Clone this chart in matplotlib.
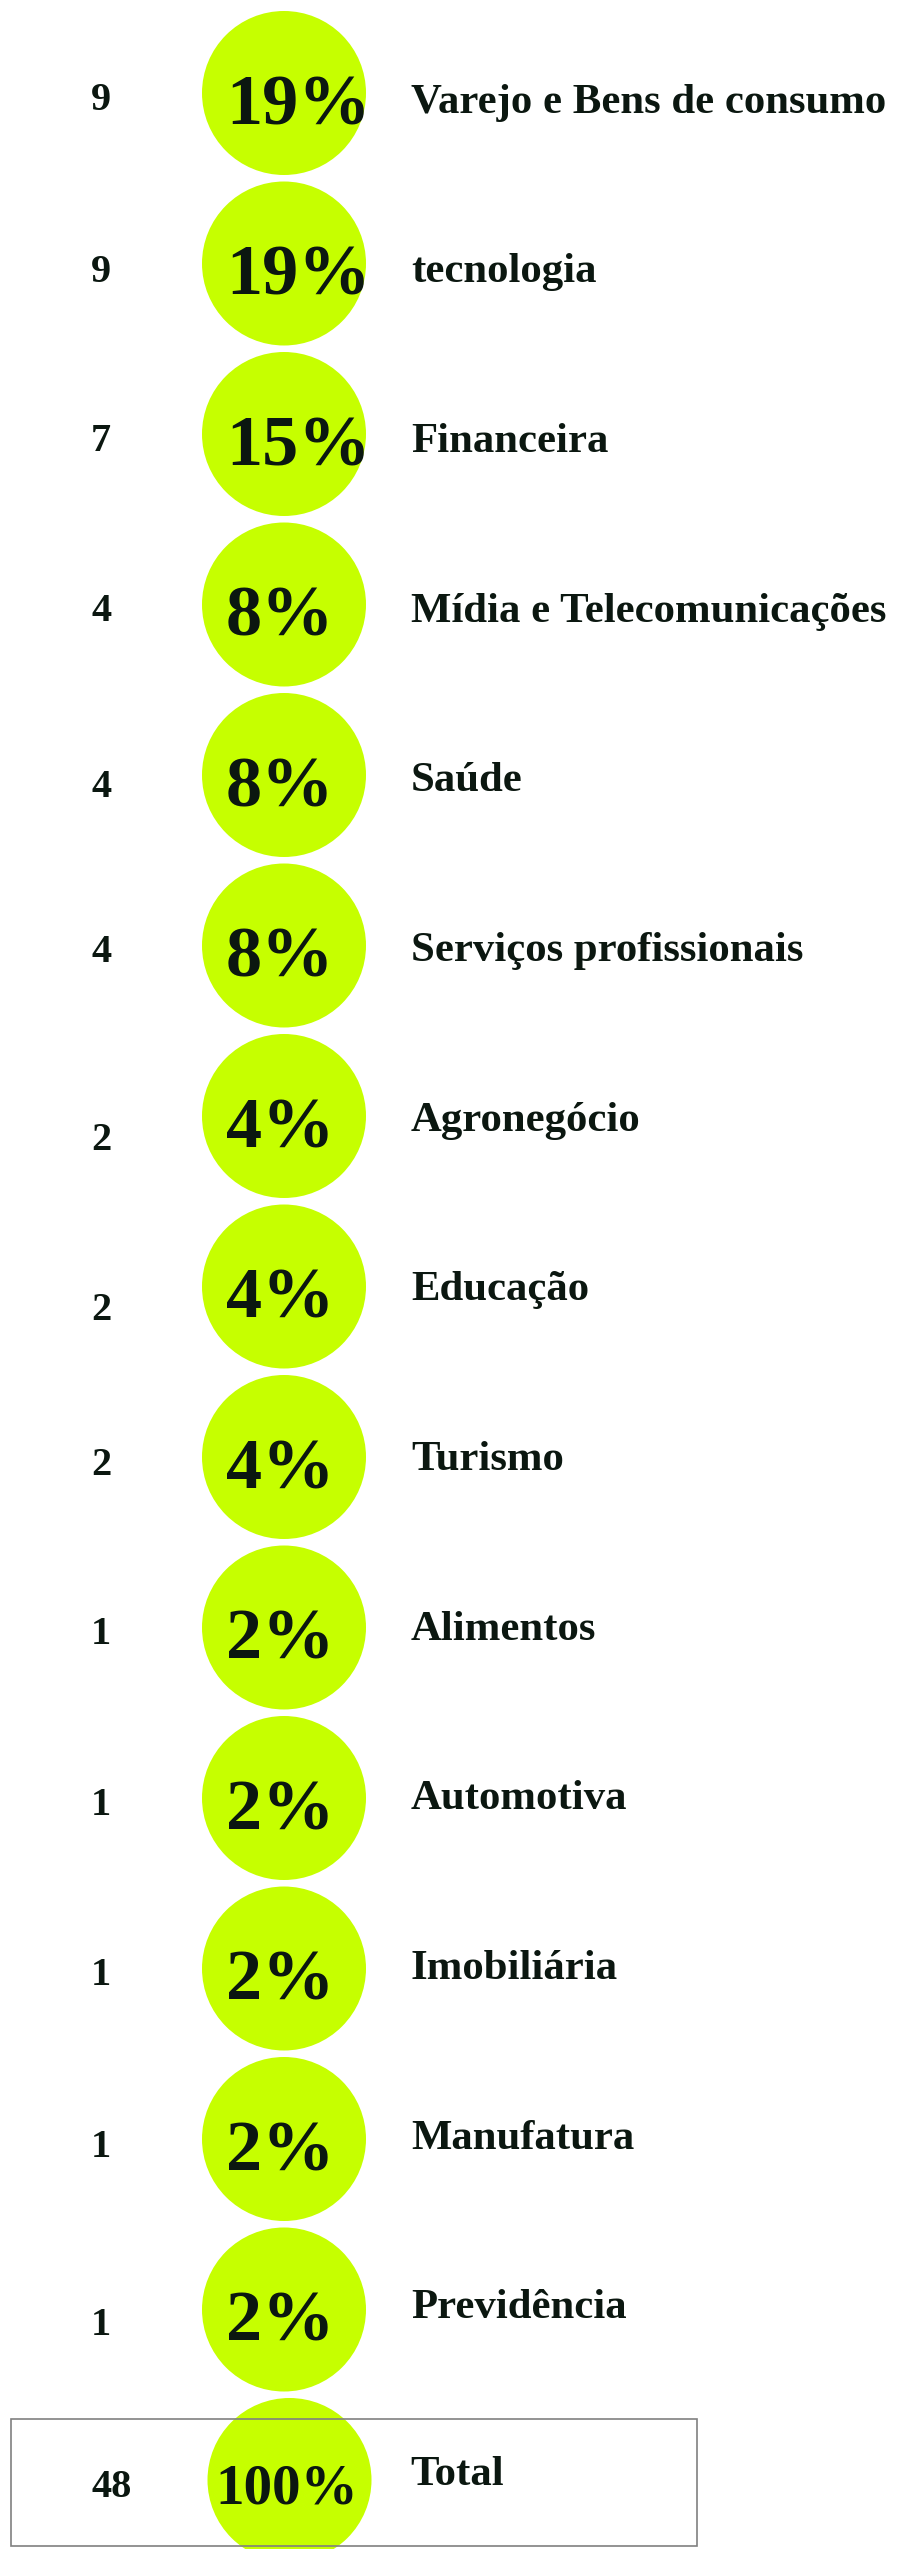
import numpy as np
import matplotlib.pyplot as plt
from matplotlib.patches import Circle, Rectangle

# data
sectors = ["Varejo e Bens de consumo", "tecnologia", "Financeira",
           "Mídia e Telecomunicações", "Saúde", "Serviços profissionais",
           "Agronegócio", "Educação", "Turismo", "Alimentos", "Automotiva",
           "Imobiliária", "Manufatura", "Previdência"]
counts = [9, 9, 7, 4, 4, 4, 2, 2, 2, 1, 1, 1, 1, 1]
shares = [19, 19, 15, 8, 8, 8, 4, 4, 4, 2, 2, 2, 2, 2]
total_label = "Total"
total_count = 48
total_share = 100

# layout (pixels, figure is drawn 1:1 in data units)
W, H = 901, 2549
first_y = 93
pitch = 170.5
radius = 82
circle_x = 284
lime = "#c6ff00"
ink = "#0b1710"
font = "Liberation Serif"
# small per-row nudges of the count column seen in the original
count_dy = [3.5, 5, 4, 3, 8.5, 3.5, 21, 20.5, 4.5, 3, 4, 3.5, 4.5, 12]

px = 0.72  # points per pixel at dpi 100
small = 29  # pt
label_size = 30.8
big = 52
cap = 0.662


def baseline(center, size_pt):
    return center + size_pt / px * cap / 2


fig = plt.figure(figsize=(W / 100, H / 100), dpi=100)
ax = fig.add_axes([0, 0, 1, 1])
ax.set_xlim(0, W)
ax.set_ylim(H, 0)
ax.axis("off")

n = len(sectors)
for i in range(n):
    cy = first_y + i * pitch
    ax.add_patch(Circle((circle_x, cy), radius, color=lime, lw=0, zorder=1))
    ax.text(226, baseline(cy + 7.5, big), f"{shares[i]}%", fontsize=big,
            fontfamily=font, fontweight="bold", color=ink, va="baseline", zorder=3)
    ax.text(91, baseline(cy + count_dy[i], small), str(counts[i]), fontsize=small,
            fontfamily=font, fontweight="bold", color=ink, va="baseline", zorder=3)
    ly = cy + 6.5 - i * 0.85
    ax.text(411, baseline(ly, 29), sectors[i], fontsize=label_size,
            fontfamily=font, fontweight="bold", color=ink, va="baseline", zorder=3)

# total row
ty = first_y + n * pitch
ax.add_patch(Circle((circle_x + 5.5, ty), radius, color=lime, lw=0, zorder=1))
ax.add_patch(Rectangle((10.5, 2419), 686.5, 127, fill=False, edgecolor="#808080",
                       lw=1.2, zorder=2))
ax.text(215, baseline(ty + 5, 41), f"{total_share}%", fontsize=41,
        fontfamily=font, fontweight="bold", color=ink, va="baseline", zorder=3)
ax.text(91, baseline(ty + 4, small), str(total_count), fontsize=small,
        fontfamily=font, fontweight="bold", color=ink, va="baseline", zorder=3)
ax.text(410, baseline(ty - 8.5, 29), total_label, fontsize=label_size,
        fontfamily=font, fontweight="bold", color=ink, va="baseline", zorder=3)

fig.savefig("out.png", dpi=100, facecolor="white")
